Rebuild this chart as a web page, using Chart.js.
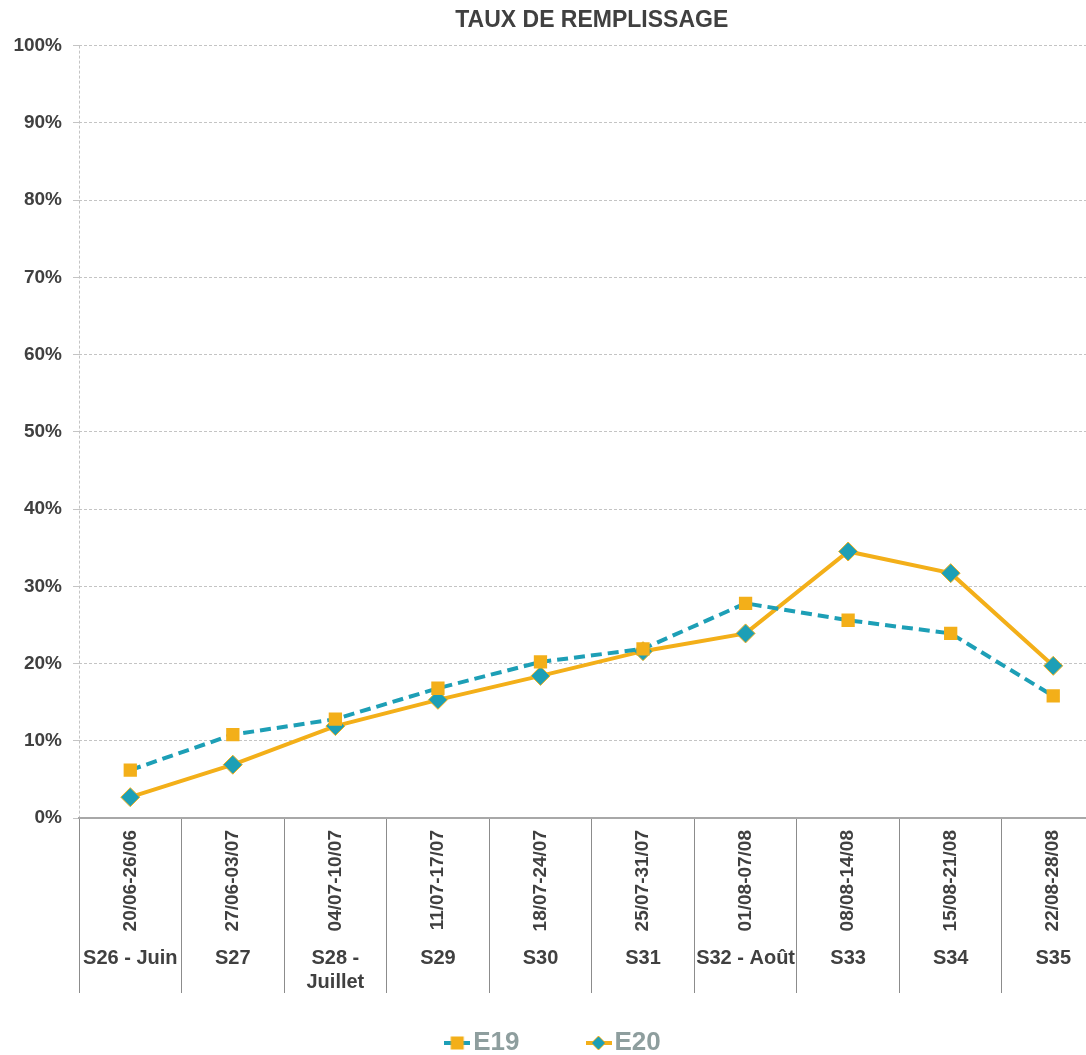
<!DOCTYPE html>
<html>
<head>
<meta charset="utf-8">
<script src="https://cdn.jsdelivr.net/npm/chart.js@4.4.1/dist/chart.umd.min.js"></script>
<style>
  html, body { margin: 0; padding: 0; background: #fff; overflow: hidden; }
  #remplissage { display: block; }
</style>
</head>
<body>
<canvas id="remplissage" width="1115" height="1066"></canvas>
<script>
const dateLabels = ['20/06-26/06', '27/06-03/07', '04/07-10/07', '11/07-17/07', '18/07-24/07',
  '25/07-31/07', '01/08-07/08', '08/08-14/08', '15/08-21/08', '22/08-28/08']
const weekLabels = ['S26 - Juin', 'S27', ['S28 -', 'Juillet'], 'S29', 'S30', 'S31',
  'S32 - Août', 'S33', 'S34', 'S35']
const e19 = [6.2, 10.8, 12.8, 16.8, 20.2, 21.9, 27.8, 25.6, 23.9, 15.8]
const e20 = [2.7, 6.9, 11.9, 15.3, 18.4, 21.6, 23.9, 34.5, 31.7, 19.7]

const TEAL = '#1d9fb6'
const ORANGE = '#f3af19'
const TEXT = '#404040'
const FONT = "'Liberation Sans', Arial, sans-serif"

// line + marker swatch used as the legend point style
function legendIcon(lineColor, markColor, dashed, diamond) {
  const c = document.createElement('canvas')
  c.width = 26
  c.height = 16
  const g = c.getContext('2d')
  g.strokeStyle = lineColor
  g.lineWidth = 4
  g.beginPath()
  if (dashed) {
    g.moveTo(0, 8); g.lineTo(7, 8)
    g.moveTo(19, 8); g.lineTo(26, 8)
  } else {
    g.moveTo(0, 8); g.lineTo(26, 8)
  }
  g.stroke()
  g.fillStyle = markColor
  if (diamond) {
    g.beginPath()
    g.moveTo(13, 1); g.lineTo(20, 8); g.lineTo(13, 15); g.lineTo(6, 8)
    g.closePath()
    g.fill()
    g.lineWidth = 1
    g.strokeStyle = ORANGE
    g.stroke()
  } else {
    g.fillRect(6.5, 1.5, 13, 13)
  }
  return c
}
const legendIcons = [
  legendIcon(TEAL, ORANGE, true, false),
  legendIcon(ORANGE, TEAL, false, true),
]

const config = {
  type: 'line',
  data: {
    labels: dateLabels,
    datasets: [
      {
        label: 'E19',
        data: e19,
        borderColor: TEAL,
        borderWidth: 4,
        borderDash: [11, 6],
        pointStyle: 'rect',
        pointRadius: 9.4,
        pointBackgroundColor: ORANGE,
        pointBorderColor: ORANGE,
        pointBorderWidth: 0,
        tension: 0,
        xAxisID: 'x',
      },
      {
        label: 'E20',
        data: e20,
        borderColor: ORANGE,
        borderWidth: 4,
        pointStyle: 'rectRot',
        pointRadius: 9.5,
        pointBackgroundColor: TEAL,
        pointBorderColor: ORANGE,
        pointBorderWidth: 1,
        tension: 0,
        xAxisID: 'x',
      },
    ]
  },
  options: {
    responsive: false,
    animation: false,
    devicePixelRatio: 1,
    layout: { padding: 0 },
    scales: {
      y: {
        min: 0,
        max: 100,
        afterFit: s => { s.width = 79 },
        ticks: {
          stepSize: 10,
          padding: 11,
          color: TEXT,
          font: { family: FONT, size: 19, weight: 'bold' },
          callback: v => v + '%',
        },
        grid: { color: '#c4c4c4', lineWidth: 1, tickLength: 6, tickColor: '#c4c4c4' },
        border: { display: false, dash: [3, 2] },
      },
      // date ranges, written vertically under each week
      x: {
        type: 'category',
        position: 'bottom',
        offset: true,
        afterFit: s => { s.height = 122 },
        ticks: {
          autoSkip: false,
          minRotation: 90,
          maxRotation: 90,
          padding: -110,
          color: TEXT,
          font: { family: FONT, size: 19, weight: 'bold' },
        },
        grid: {
          offset: true,
          drawOnChartArea: true,
          // only the left edge shows inside the plot
          color: ctx => ctx.index === 0 ? '#c4c4c4' : 'rgba(0,0,0,0)',
          lineWidth: 1,
          tickLength: 122,
          tickColor: '#8c8c8c',
          tickWidth: 1,
        },
        border: { display: true, color: '#a8a8a8', width: 2, dash: [3, 2] },
      },
      // week names, second row of the axis
      x2: {
        type: 'category',
        position: 'bottom',
        labels: weekLabels,
        offset: true,
        afterFit: s => { s.height = 14 },
        ticks: {
          autoSkip: false,
          maxRotation: 0,
          mirror: true,
          padding: -30,
          color: TEXT,
          font: { family: FONT, size: 20, weight: 'bold' },
        },
        grid: {
          offset: true,
          drawOnChartArea: false,
          tickLength: 53,
          tickColor: '#8c8c8c',
          tickWidth: 1,
        },
        border: { display: false },
      },
    },
    plugins: {
      title: {
        display: true,
        text: 'TAUX DE REMPLISSAGE',
        fullSize: false,
        color: TEXT,
        font: { family: FONT, size: 23, weight: 'bold' },
        padding: { top: 7, bottom: 11 },
      },
      legend: {
        position: 'bottom',
        labels: {
          usePointStyle: true,
          pointStyleWidth: 6,
          padding: 76,
          color: '#8e9e9e',
          font: { family: FONT, size: 26, weight: 'bold' },
          generateLabels: chart => Chart.defaults.plugins.legend.labels.generateLabels(chart)
            .map((item, i) => ({ ...item, pointStyle: legendIcons[i] })),
        },
      },
      tooltip: { enabled: false },
    },
  },
}

new Chart(document.getElementById('remplissage').getContext('2d'), config)
</script>
</body>
</html>
